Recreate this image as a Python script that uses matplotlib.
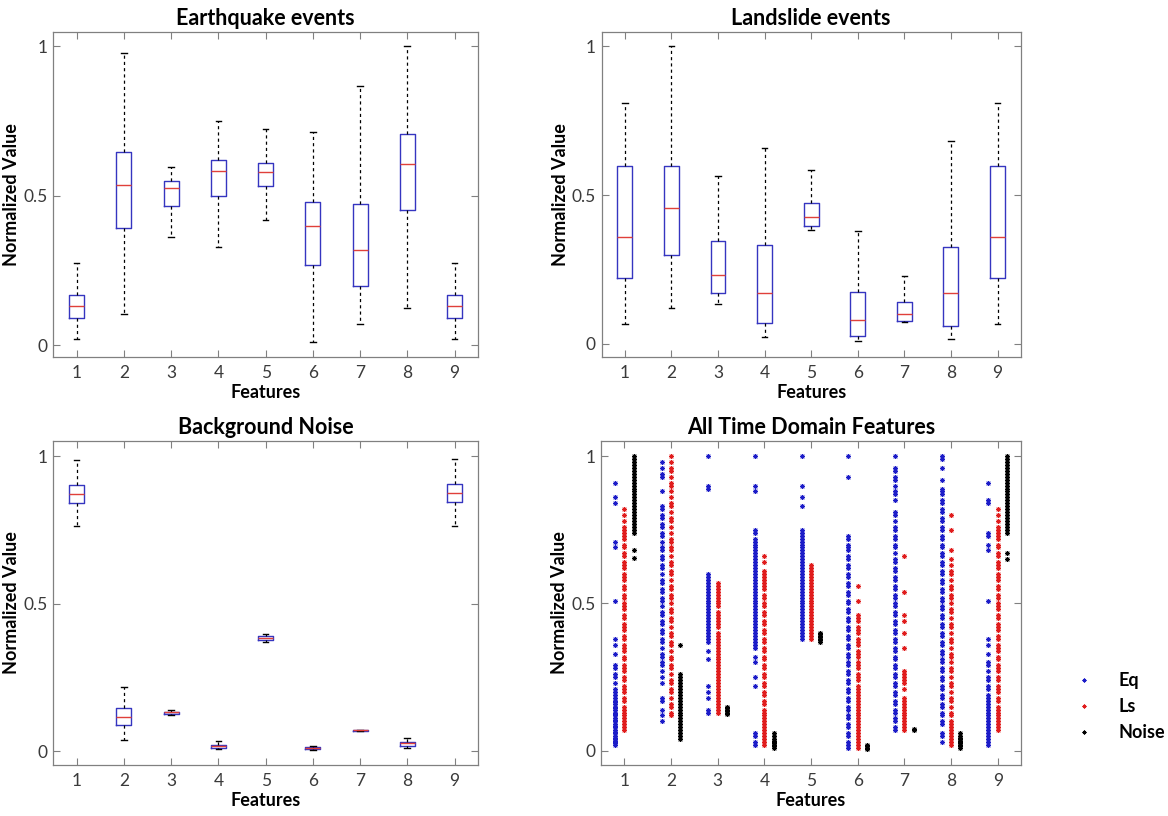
import matplotlib
matplotlib.use('Agg')
import matplotlib.pyplot as plt

plt.rcParams['font.family'] = ['Lato', 'DejaVu Sans']

# %%
# Box plot summaries: whisker low, q1, median, q3, whisker high
features = [1, 2, 3, 4, 5, 6, 7, 8, 9]

eq_lo = [0.021, 0.104, 0.363, 0.328, 0.419, 0.012, 0.072, 0.124, 0.021]
eq_q1 = [0.091, 0.391, 0.466, 0.500, 0.532, 0.267, 0.197, 0.452, 0.091]
eq_med = [0.132, 0.537, 0.527, 0.584, 0.580, 0.400, 0.319, 0.608, 0.132]
eq_q3 = [0.168, 0.647, 0.549, 0.619, 0.610, 0.480, 0.471, 0.708, 0.168]
eq_hi = [0.274, 0.978, 0.597, 0.749, 0.724, 0.712, 0.866, 1.000, 0.274]

ls_lo = [0.068, 0.121, 0.135, 0.023, 0.383, 0.009, 0.073, 0.018, 0.068]
ls_q1 = [0.221, 0.297, 0.171, 0.070, 0.397, 0.028, 0.076, 0.060, 0.221]
ls_med = [0.360, 0.456, 0.233, 0.171, 0.425, 0.081, 0.102, 0.170, 0.358]
ls_q3 = [0.598, 0.598, 0.346, 0.333, 0.473, 0.173, 0.141, 0.327, 0.598]
ls_hi = [0.810, 1.000, 0.565, 0.658, 0.584, 0.378, 0.229, 0.683, 0.810]

nz_lo = [0.762, 0.037, 0.123, 0.008, 0.371, 0.003, 0.067, 0.010, 0.762]
nz_q1 = [0.842, 0.088, 0.126, 0.012, 0.378, 0.007, 0.069, 0.019, 0.843]
nz_med = [0.873, 0.116, 0.131, 0.017, 0.383, 0.010, 0.070, 0.026, 0.874]
nz_q3 = [0.902, 0.145, 0.134, 0.021, 0.389, 0.014, 0.071, 0.032, 0.905]
nz_hi = [0.988, 0.219, 0.141, 0.033, 0.396, 0.019, 0.073, 0.046, 0.991]

# %%
# Scatter values per feature (read off the "All Time Domain Features" panel)
eq_pts = [
    [0.91, 0.86, 0.84, 0.71, 0.69, 0.51, 0.38, 0.36, 0.33, 0.29, 0.28, 0.26, 0.25, 0.23, 0.21, 0.20,
     0.19, 0.18, 0.17, 0.165, 0.16, 0.15, 0.145, 0.14, 0.13, 0.125, 0.12, 0.11, 0.105, 0.10, 0.09,
     0.085, 0.08, 0.07, 0.065, 0.06, 0.05, 0.045, 0.04, 0.035, 0.03, 0.025, 0.02],
    [0.98, 0.96, 0.94, 0.93, 0.88, 0.83, 0.82, 0.80, 0.79, 0.77, 0.76, 0.74, 0.73, 0.71, 0.69, 0.68,
     0.66, 0.65, 0.63, 0.62, 0.60, 0.58, 0.57, 0.55, 0.54, 0.52, 0.51, 0.49, 0.47, 0.46, 0.44, 0.43,
     0.41, 0.40, 0.38, 0.37, 0.35, 0.33, 0.32, 0.30, 0.29, 0.27, 0.25, 0.23, 0.18, 0.17, 0.14, 0.12,
     0.10],
    [1.0, 0.90, 0.89, 0.60, 0.59, 0.58, 0.57, 0.56, 0.55, 0.54, 0.53, 0.52, 0.51, 0.50, 0.49, 0.48,
     0.47, 0.46, 0.45, 0.44, 0.43, 0.42, 0.41, 0.40, 0.39, 0.38, 0.37, 0.34, 0.31, 0.22, 0.20, 0.18,
     0.14, 0.13],
    [1.0, 0.90, 0.88, 0.75, 0.74, 0.72, 0.71, 0.70, 0.69, 0.68, 0.67, 0.66, 0.65, 0.64, 0.63, 0.62,
     0.61, 0.60, 0.59, 0.58, 0.57, 0.56, 0.55, 0.54, 0.53, 0.52, 0.51, 0.50, 0.49, 0.48, 0.47, 0.46,
     0.45, 0.44, 0.43, 0.42, 0.41, 0.40, 0.39, 0.38, 0.37, 0.36, 0.35, 0.32, 0.30, 0.25, 0.22, 0.06,
     0.05, 0.03, 0.02],
    [1.0, 0.90, 0.86, 0.83, 0.75, 0.74, 0.73, 0.72, 0.71, 0.70, 0.69, 0.68, 0.67, 0.66, 0.65, 0.64,
     0.63, 0.62, 0.61, 0.60, 0.59, 0.58, 0.57, 0.56, 0.55, 0.54, 0.53, 0.52, 0.51, 0.50, 0.49, 0.48,
     0.47, 0.46, 0.45, 0.44, 0.43, 0.42, 0.41, 0.40, 0.39, 0.38],
    [1.0, 0.93, 0.73, 0.72, 0.70, 0.69, 0.68, 0.66, 0.65, 0.63, 0.62, 0.60, 0.59, 0.57, 0.56, 0.54,
     0.53, 0.51, 0.50, 0.48, 0.47, 0.45, 0.44, 0.42, 0.41, 0.39, 0.38, 0.36, 0.35, 0.33, 0.32, 0.30,
     0.29, 0.27, 0.26, 0.24, 0.23, 0.21, 0.20, 0.18, 0.17, 0.15, 0.14, 0.12, 0.11, 0.09, 0.08, 0.06,
     0.05, 0.03, 0.02, 0.01],
    [1.0, 0.96, 0.95, 0.93, 0.92, 0.90, 0.88, 0.87, 0.85, 0.81, 0.80, 0.78, 0.76, 0.75, 0.73, 0.72,
     0.70, 0.69, 0.67, 0.65, 0.64, 0.62, 0.61, 0.59, 0.58, 0.56, 0.55, 0.53, 0.52, 0.50, 0.49, 0.47,
     0.46, 0.44, 0.43, 0.41, 0.40, 0.38, 0.37, 0.35, 0.34, 0.32, 0.31, 0.29, 0.28, 0.26, 0.25, 0.23,
     0.22, 0.20, 0.19, 0.17, 0.16, 0.14, 0.13, 0.11, 0.10, 0.08, 0.07],
    [1.0, 0.99, 0.96, 0.92, 0.89, 0.88, 0.87, 0.85, 0.84, 0.82, 0.81, 0.79, 0.78, 0.76, 0.75, 0.73,
     0.72, 0.70, 0.69, 0.67, 0.66, 0.64, 0.63, 0.61, 0.60, 0.58, 0.57, 0.55, 0.54, 0.52, 0.51, 0.49,
     0.48, 0.46, 0.45, 0.43, 0.42, 0.40, 0.39, 0.37, 0.36, 0.34, 0.33, 0.31, 0.30, 0.28, 0.27, 0.25,
     0.24, 0.22, 0.21, 0.19, 0.18, 0.16, 0.15, 0.13, 0.12, 0.10, 0.09, 0.06, 0.05, 0.03],
    [0.91, 0.85, 0.84, 0.74, 0.73, 0.70, 0.68, 0.51, 0.38, 0.36, 0.33, 0.30, 0.29, 0.27, 0.25, 0.24,
     0.22, 0.21, 0.19, 0.18, 0.17, 0.16, 0.15, 0.14, 0.13, 0.12, 0.11, 0.10, 0.09, 0.08, 0.07, 0.06,
     0.05, 0.04, 0.03, 0.02],
]

ls_pts = [
    [0.82, 0.80, 0.78, 0.76, 0.75, 0.74, 0.73, 0.72, 0.70, 0.69, 0.67, 0.66, 0.64, 0.63, 0.62, 0.60,
     0.59, 0.58, 0.56, 0.55, 0.53, 0.52, 0.50, 0.49, 0.48, 0.46, 0.45, 0.43, 0.42, 0.41, 0.39, 0.38,
     0.36, 0.35, 0.34, 0.32, 0.31, 0.29, 0.28, 0.27, 0.25, 0.24, 0.22, 0.21, 0.20, 0.18, 0.17, 0.15,
     0.14, 0.13, 0.12, 0.11, 0.10, 0.09, 0.08, 0.07],
    [1.0, 0.98, 0.96, 0.95, 0.93, 0.91, 0.90, 0.88, 0.86, 0.84, 0.83, 0.81, 0.79, 0.78, 0.76, 0.74,
     0.72, 0.71, 0.69, 0.68, 0.66, 0.64, 0.63, 0.61, 0.60, 0.58, 0.56, 0.55, 0.53, 0.52, 0.50, 0.48,
     0.47, 0.45, 0.44, 0.42, 0.40, 0.39, 0.37, 0.36, 0.34, 0.32, 0.31, 0.29, 0.28, 0.26, 0.24, 0.23,
     0.21, 0.20, 0.18, 0.16, 0.15, 0.13, 0.12],
    [0.57, 0.56, 0.55, 0.54, 0.53, 0.52, 0.51, 0.50, 0.49, 0.47, 0.46, 0.45, 0.44, 0.43, 0.42, 0.40,
     0.39, 0.38, 0.37, 0.36, 0.35, 0.34, 0.33, 0.32, 0.31, 0.30, 0.29, 0.28, 0.27, 0.26, 0.25, 0.24,
     0.23, 0.22, 0.21, 0.20, 0.19, 0.18, 0.17, 0.16, 0.15, 0.14, 0.13],
    [0.66, 0.64, 0.61, 0.60, 0.59, 0.58, 0.57, 0.56, 0.55, 0.53, 0.52, 0.50, 0.49, 0.47, 0.46, 0.44,
     0.43, 0.41, 0.40, 0.38, 0.37, 0.35, 0.34, 0.32, 0.31, 0.29, 0.28, 0.26, 0.25, 0.23, 0.22, 0.20,
     0.19, 0.17, 0.16, 0.14, 0.13, 0.12, 0.11, 0.10, 0.09, 0.08, 0.07, 0.06, 0.05, 0.04, 0.03, 0.02],
    [0.63, 0.62, 0.61, 0.60, 0.59, 0.58, 0.57, 0.56, 0.55, 0.54, 0.53, 0.52, 0.51, 0.50, 0.49, 0.48,
     0.47, 0.46, 0.45, 0.44, 0.43, 0.42, 0.41, 0.40, 0.39, 0.38],
    [0.56, 0.51, 0.46, 0.45, 0.44, 0.42, 0.41, 0.40, 0.38, 0.37, 0.36, 0.34, 0.33, 0.32, 0.30, 0.29,
     0.28, 0.26, 0.25, 0.24, 0.22, 0.21, 0.20, 0.19, 0.18, 0.17, 0.16, 0.15, 0.14, 0.13, 0.12, 0.11,
     0.10, 0.09, 0.08, 0.07, 0.06, 0.05, 0.04, 0.03, 0.02, 0.01],
    [0.66, 0.54, 0.46, 0.44, 0.40, 0.35, 0.27, 0.26, 0.25, 0.24, 0.23, 0.21, 0.18, 0.17, 0.16, 0.15,
     0.14, 0.13, 0.12, 0.11, 0.10, 0.09, 0.08, 0.07],
    [0.80, 0.75, 0.68, 0.65, 0.63, 0.61, 0.60, 0.58, 0.56, 0.55, 0.53, 0.52, 0.50, 0.48, 0.47, 0.45,
     0.43, 0.42, 0.40, 0.38, 0.37, 0.35, 0.33, 0.32, 0.30, 0.28, 0.27, 0.25, 0.23, 0.22, 0.20, 0.18,
     0.17, 0.15, 0.13, 0.12, 0.10, 0.09, 0.08, 0.07, 0.06, 0.05, 0.04, 0.03, 0.02],
    [0.82, 0.80, 0.78, 0.76, 0.75, 0.74, 0.73, 0.72, 0.70, 0.69, 0.67, 0.66, 0.64, 0.63, 0.62, 0.60,
     0.59, 0.58, 0.56, 0.55, 0.53, 0.52, 0.50, 0.49, 0.48, 0.46, 0.45, 0.43, 0.42, 0.41, 0.39, 0.38,
     0.36, 0.35, 0.34, 0.32, 0.31, 0.29, 0.28, 0.27, 0.25, 0.24, 0.22, 0.21, 0.20, 0.18, 0.17, 0.15,
     0.14, 0.13, 0.12, 0.11, 0.10, 0.09, 0.08, 0.07],
]

nz_pts = [
    [1.0, 0.99, 0.98, 0.97, 0.96, 0.95, 0.94, 0.93, 0.92, 0.91, 0.90, 0.89, 0.88, 0.87, 0.86, 0.85,
     0.84, 0.83, 0.82, 0.81, 0.80, 0.79, 0.78, 0.77, 0.76, 0.75, 0.74, 0.68, 0.655],
    [0.36, 0.26, 0.25, 0.24, 0.23, 0.22, 0.21, 0.20, 0.19, 0.18, 0.17, 0.16, 0.15, 0.14, 0.13, 0.12,
     0.11, 0.10, 0.09, 0.08, 0.07, 0.06, 0.05, 0.04],
    [0.15, 0.145, 0.14, 0.135, 0.13, 0.125],
    [0.06, 0.05, 0.04, 0.035, 0.03, 0.025, 0.02, 0.015, 0.01],
    [0.40, 0.395, 0.39, 0.385, 0.38, 0.375, 0.37],
    [0.02, 0.015, 0.01, 0.005],
    [0.075, 0.07],
    [0.06, 0.05, 0.045, 0.04, 0.035, 0.03, 0.025, 0.02, 0.015, 0.01],
    [1.0, 0.99, 0.98, 0.97, 0.96, 0.95, 0.94, 0.93, 0.92, 0.91, 0.90, 0.89, 0.88, 0.87, 0.86, 0.85,
     0.84, 0.83, 0.82, 0.81, 0.80, 0.79, 0.78, 0.77, 0.76, 0.75, 0.74, 0.67, 0.65],
]

group_names = ['Eq', 'Ls', 'Noise']


# %%
def make_stats(lo, q1, med, q3, hi):
    return [dict(whislo=a, q1=b, med=c, q3=d, whishi=e, fliers=[])
            for a, b, c, d, e in zip(lo, q1, med, q3, hi)]


def style_axes(ax, title, ylim):
    ax.set_xlim(0.5, 9.5)
    ax.set_ylim(*ylim)
    ax.set_xticks(features)
    ax.set_xticklabels([str(f) for f in features])
    ax.set_yticks([0, 0.5, 1])
    ax.set_yticklabels(['0', '0.5', '1'])
    ax.tick_params(direction='in', length=5, width=0.8, color='#808080',
                   top=True, right=True, labelsize=12.5, labelcolor='#3a3a3a')
    ax.tick_params(axis='x', pad=6)
    ax.tick_params(axis='y', pad=4)
    for s in ax.spines.values():
        s.set_color('#808080')
        s.set_linewidth(0.9)
    ax.set_title(title, fontsize=15.5, fontweight='bold', pad=5)
    ax.set_xlabel('Features', fontsize=13, fontweight='bold', labelpad=2)
    ax.set_ylabel('Normalized Value', fontsize=13, fontweight='bold', labelpad=2)


def draw_box(ax, stats):
    ax.bxp(stats, positions=features, widths=0.32, capwidths=0.12,
           showfliers=False, manage_ticks=False,
           boxprops=dict(color='#3535c0', linewidth=1.0),
           medianprops=dict(color='#e0403a', linewidth=1.0),
           whiskerprops=dict(color='black', linewidth=0.9, linestyle=(0, (2.5, 2.5))),
           capprops=dict(color='black', linewidth=1.0))


fig = plt.figure(figsize=(11.68, 8.16), dpi=100)
ax1 = fig.add_axes([0.0454, 0.5625, 0.364, 0.398])
ax2 = fig.add_axes([0.515, 0.5625, 0.359, 0.398])
ax3 = fig.add_axes([0.0454, 0.0625, 0.364, 0.397])
ax4 = fig.add_axes([0.5146, 0.0625, 0.3596, 0.397])

# Top left: earthquakes
draw_box(ax1, make_stats(eq_lo, eq_q1, eq_med, eq_q3, eq_hi))
style_axes(ax1, 'Earthquake events', (-0.039, 1.047))

# Top right: landslides
draw_box(ax2, make_stats(ls_lo, ls_q1, ls_med, ls_q3, ls_hi))
style_axes(ax2, 'Landslide events', (-0.044, 1.047))

# Bottom left: noise
draw_box(ax3, make_stats(nz_lo, nz_q1, nz_med, nz_q3, nz_hi))
style_axes(ax3, 'Background Noise', (-0.047, 1.051))

# Bottom right: all points side by side
colors = ['#1c1cc8', '#e01c1c', 'black']
offsets = [-0.2, 0.0, 0.2]
for g, (pts, col, off) in enumerate(zip([eq_pts, ls_pts, nz_pts], colors, offsets)):
    for i, vals in enumerate(pts):
        ax4.plot([features[i] + off] * len(vals), vals, linestyle='none',
                 marker=(8, 2, 0), markersize=3.6, markeredgewidth=0.6, color=col,
                 label=group_names[g] if i == 0 else None)
style_axes(ax4, 'All Time Domain Features', (-0.048, 1.051))

leg = ax4.legend(loc='center left', bbox_to_anchor=(1.09, 0.18), frameon=False,
                 handlelength=1.0, handletextpad=1.4, labelspacing=0.5, markerscale=0.8,
                 prop=dict(size=13, weight='bold'))

fig.savefig('out.png', dpi=100)
